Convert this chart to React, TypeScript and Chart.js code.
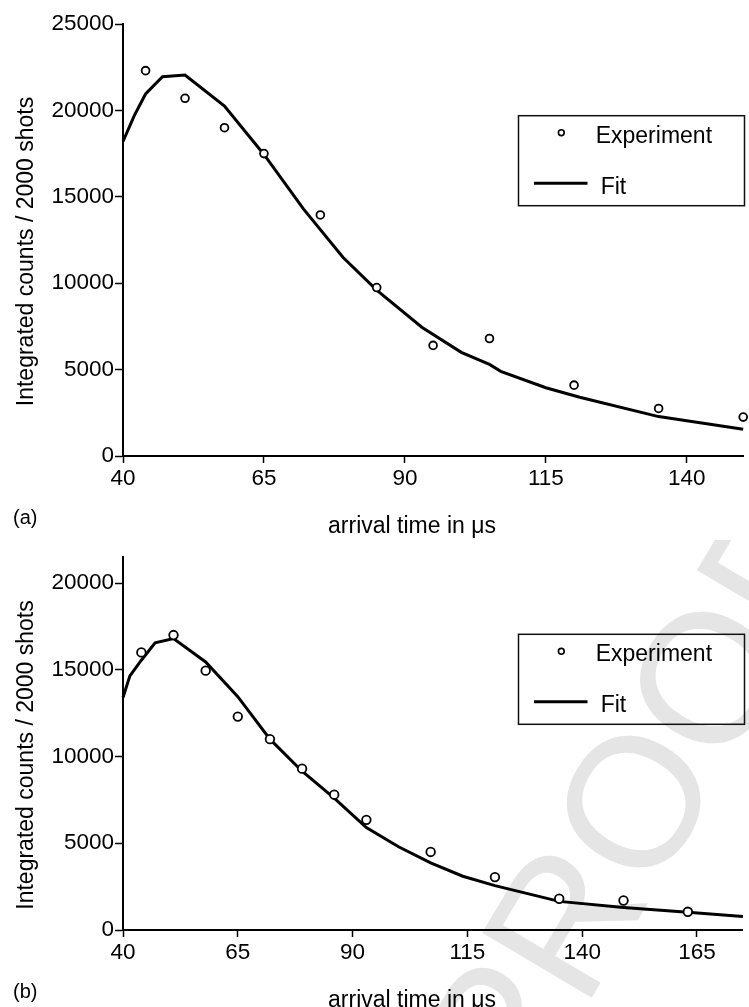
import React, { useEffect, useRef } from "react";
import { Chart, registerables } from "chart.js";

Chart.register(...registerables);

const FONT = "'Liberation Sans', Arial, Helvetica, sans-serif";

// ---- text ----
const yAxisTitle = "Integrated counts / 2000 shots";
const xAxisTitle = "arrival time in \u03bcs";
const legendLabels = ["Experiment", "Fit"];
const panelLabels = ["(a)", "(b)"];
const watermarkText = "PROOF";

// ---- panel (a) data ----
const timesA = [44, 51, 58, 65, 75, 85, 95, 105, 120, 135, 150];
const countsA = [22300, 20700, 19000, 17500, 13950, 9750, 6400, 6800, 4100, 2750, 2250];
const fitTimesA = [40, 42, 44, 47, 51, 58, 65, 72, 79, 85, 93, 100, 105, 107, 115, 121, 135, 150];
const fitCountsA = [18200, 19700, 20950, 21950, 22050, 20250, 17450, 14300, 11500, 9600, 7450, 6000, 5300, 4900, 3950, 3400, 2280, 1550];
const xTicksA = [40, 65, 90, 115, 140];
const yTicksA = [0, 5000, 10000, 15000, 20000, 25000];
const xRangeA = [40, 150];
const yRangeA = [0, 25000];

// ---- panel (b) data ----
const timesB = [44, 51, 58, 65, 72, 79, 86, 93, 107, 121, 135, 149, 163];
const countsB = [16000, 17000, 14950, 12300, 11000, 9300, 7800, 6350, 4500, 3050, 1800, 1700, 1050];
const fitTimesB = [40, 41.5, 44, 47, 51, 58, 65, 72, 79, 86, 93, 100, 107, 114, 121, 135, 149, 163, 175];
const fitCountsB = [13400, 14650, 15550, 16550, 16800, 15450, 13450, 11000, 9150, 7600, 5900, 4800, 3870, 3100, 2560, 1650, 1300, 1020, 780];
const xTicksB = [40, 65, 90, 115, 140, 165];
const yTicksB = [0, 5000, 10000, 15000, 20000];
const xRangeB = [40, 175];
const yRangeB = [0, 21500];

const watermarkPlugin = {
  id: "watermark",
  beforeDraw(chart: any, _args: any, opts: any) {
    if (!opts || !opts.show) return;
    const ctx = chart.ctx;
    ctx.save();
    ctx.translate(opts.x, opts.y);
    ctx.rotate(opts.angle);
    ctx.fillStyle = "#e5e5e5";
    ctx.font = `185px ${FONT}`;
    ctx.textAlign = "left";
    ctx.textBaseline = "alphabetic";
    ctx.fillText(watermarkText, 0, 0);
    ctx.restore();
  },
};

const annotPlugin = {
  id: "annot",
  afterDraw(chart: any, _args: any, opts: any) {
    const ctx = chart.ctx;
    const ca = chart.chartArea;
    ctx.save();
    ctx.fillStyle = "#000";
    ctx.textBaseline = "alphabetic";
    ctx.save();
    ctx.font = `23px ${FONT}`;
    ctx.translate(33, (ca.top + ca.bottom) / 2 + 11.5);
    ctx.rotate(-Math.PI / 2);
    ctx.textAlign = "center";
    ctx.fillText(opts.yTitle, 0, 0);
    ctx.restore();
    ctx.font = `23px ${FONT}`;
    ctx.textAlign = "center";
    ctx.fillText(opts.xTitle, 412, ca.bottom + 76.5);
    ctx.font = `20px ${FONT}`;
    ctx.textAlign = "left";
    ctx.fillText(opts.panel, 13, ca.bottom + 68);
    ctx.restore();
  },
};

const boxLegendPlugin = {
  id: "boxLegend",
  afterDraw(chart: any, _args: any, opts: any) {
    const ctx = chart.ctx;
    const left = 518.5;
    const top = opts.top;
    const w = 226;
    const h = 90;
    const ds = chart.data.datasets;
    ctx.save();
    ctx.strokeStyle = "#111";
    ctx.lineWidth = 1.5;
    ctx.strokeRect(left, top, w, h);
    ctx.beginPath();
    ctx.arc(561.3, top + 17, 2.9, 0, Math.PI * 2);
    ctx.lineWidth = 1.6;
    ctx.strokeStyle = "#000";
    ctx.stroke();
    ctx.fillStyle = "#000";
    ctx.font = `23px ${FONT}`;
    ctx.textAlign = "left";
    ctx.textBaseline = "alphabetic";
    ctx.fillText(ds[0].label, 595.7, top + 27);
    ctx.beginPath();
    ctx.moveTo(534, top + 67.5);
    ctx.lineTo(587.5, top + 67.5);
    ctx.lineWidth = 3;
    ctx.stroke();
    ctx.fillText(ds[1].label, 600.7, top + 78);
    ctx.restore();
  },
};

function buildConfig(p: {
  times: number[];
  counts: number[];
  fitTimes: number[];
  fitCounts: number[];
  xTicks: number[];
  yTicks: number[];
  xRange: number[];
  yRange: number[];
  padTop: number;
  xAxisHeight: number;
  panel: string;
  legendTop: number;
  pointRadius: number;
  watermark: any;
}): any {
  const tickFont = { family: FONT, size: 22.5 };
  return {
    type: "scatter",
    data: {
      datasets: [
        {
          label: legendLabels[0],
          data: p.times.map((t, i) => ({ x: t, y: p.counts[i] })),
          showLine: false,
          pointStyle: "circle",
          pointRadius: p.pointRadius,
          pointBorderWidth: 1.8,
          pointBorderColor: "#000",
          pointBackgroundColor: "#fff",
          clip: false,
          order: 0,
        },
        {
          label: legendLabels[1],
          data: p.fitTimes.map((t, i) => ({ x: t, y: p.fitCounts[i] })),
          showLine: true,
          borderColor: "#000",
          borderWidth: 3,
          pointRadius: 0,
          tension: 0,
          clip: false,
          order: 1,
        },
      ],
    },
    options: {
      responsive: false,
      animation: false,
      events: [],
      layout: { padding: { left: 0, right: 5, top: p.padTop, bottom: 0 } },
      plugins: {
        legend: { display: false },
        tooltip: { enabled: false },
        annot: { yTitle: yAxisTitle, xTitle: xAxisTitle, panel: p.panel },
        boxLegend: { top: p.legendTop },
        watermark: p.watermark,
      },
      scales: {
        x: {
          type: "linear",
          min: p.xRange[0],
          max: p.xRange[1],
          afterFit: (s: any) => {
            s.height = p.xAxisHeight;
          },
          afterBuildTicks: (s: any) => {
            s.ticks = p.xTicks.map((v) => ({ value: v }));
          },
          grid: {
            display: true,
            drawOnChartArea: false,
            drawTicks: true,
            tickLength: 7,
            tickColor: "#000",
            tickWidth: 1.5,
          },
          border: { display: true, color: "#000", width: 2 },
          ticks: {
            color: "#000",
            font: tickFont,
            padding: 2,
            maxRotation: 0,
            autoSkip: false,
            callback: (v: any) => String(v),
          },
        },
        y: {
          type: "linear",
          min: p.yRange[0],
          max: p.yRange[1],
          afterFit: (s: any) => {
            s.width = 123;
          },
          afterBuildTicks: (s: any) => {
            s.ticks = p.yTicks.map((v) => ({ value: v }));
          },
          grid: {
            display: true,
            drawOnChartArea: false,
            drawTicks: true,
            tickLength: 8,
            tickColor: "#000",
            tickWidth: 1.5,
          },
          border: { display: true, color: "#000", width: 2 },
          ticks: {
            color: "#000",
            font: tickFont,
            padding: 1,
            autoSkip: false,
            callback: (v: any) => String(v),
          },
        },
      },
    },
    plugins: [watermarkPlugin, annotPlugin, boxLegendPlugin],
  };
}

function Panel(props: { top: number; height: number; config: any }) {
  const ref = useRef<HTMLCanvasElement | null>(null);
  useEffect(() => {
    if (!ref.current) return;
    const chart = new Chart(ref.current, props.config);
    return () => chart.destroy();
  }, []);
  return (
    <canvas
      ref={ref}
      width={749}
      height={props.height}
      style={{ position: "absolute", left: 0, top: props.top, display: "block", width: 749, height: props.height }}
    />
  );
}

export default function App() {
  const cfgA = buildConfig({
    times: timesA,
    counts: countsA,
    fitTimes: fitTimesA,
    fitCounts: fitCountsA,
    xTicks: xTicksA,
    yTicks: yTicksA,
    xRange: xRangeA,
    yRange: yRangeA,
    padTop: 24,
    xAxisHeight: 84,
    panel: panelLabels[0],
    legendTop: 115.7,
    pointRadius: 3.9,
    watermark: { show: false },
  });
  const cfgB = buildConfig({
    times: timesB,
    counts: countsB,
    fitTimes: fitTimesB,
    fitCounts: fitCountsB,
    xTicks: xTicksB,
    yTicks: yTicksB,
    xRange: xRangeB,
    yRange: yRangeB,
    padTop: 17,
    xAxisHeight: 77,
    panel: panelLabels[1],
    legendTop: 94.3,
    pointRadius: 4.3,
    watermark: { show: true, x: 521, y: 577, angle: Math.atan2(-130, 77) },
  });
  return (
    <div style={{ position: "absolute", left: 0, top: 0, width: 749, height: 1007, background: "#fff", overflow: "hidden" }}>
      <Panel top={0} height={540} config={cfgA} />
      <Panel top={540} height={467} config={cfgB} />
    </div>
  );
}
